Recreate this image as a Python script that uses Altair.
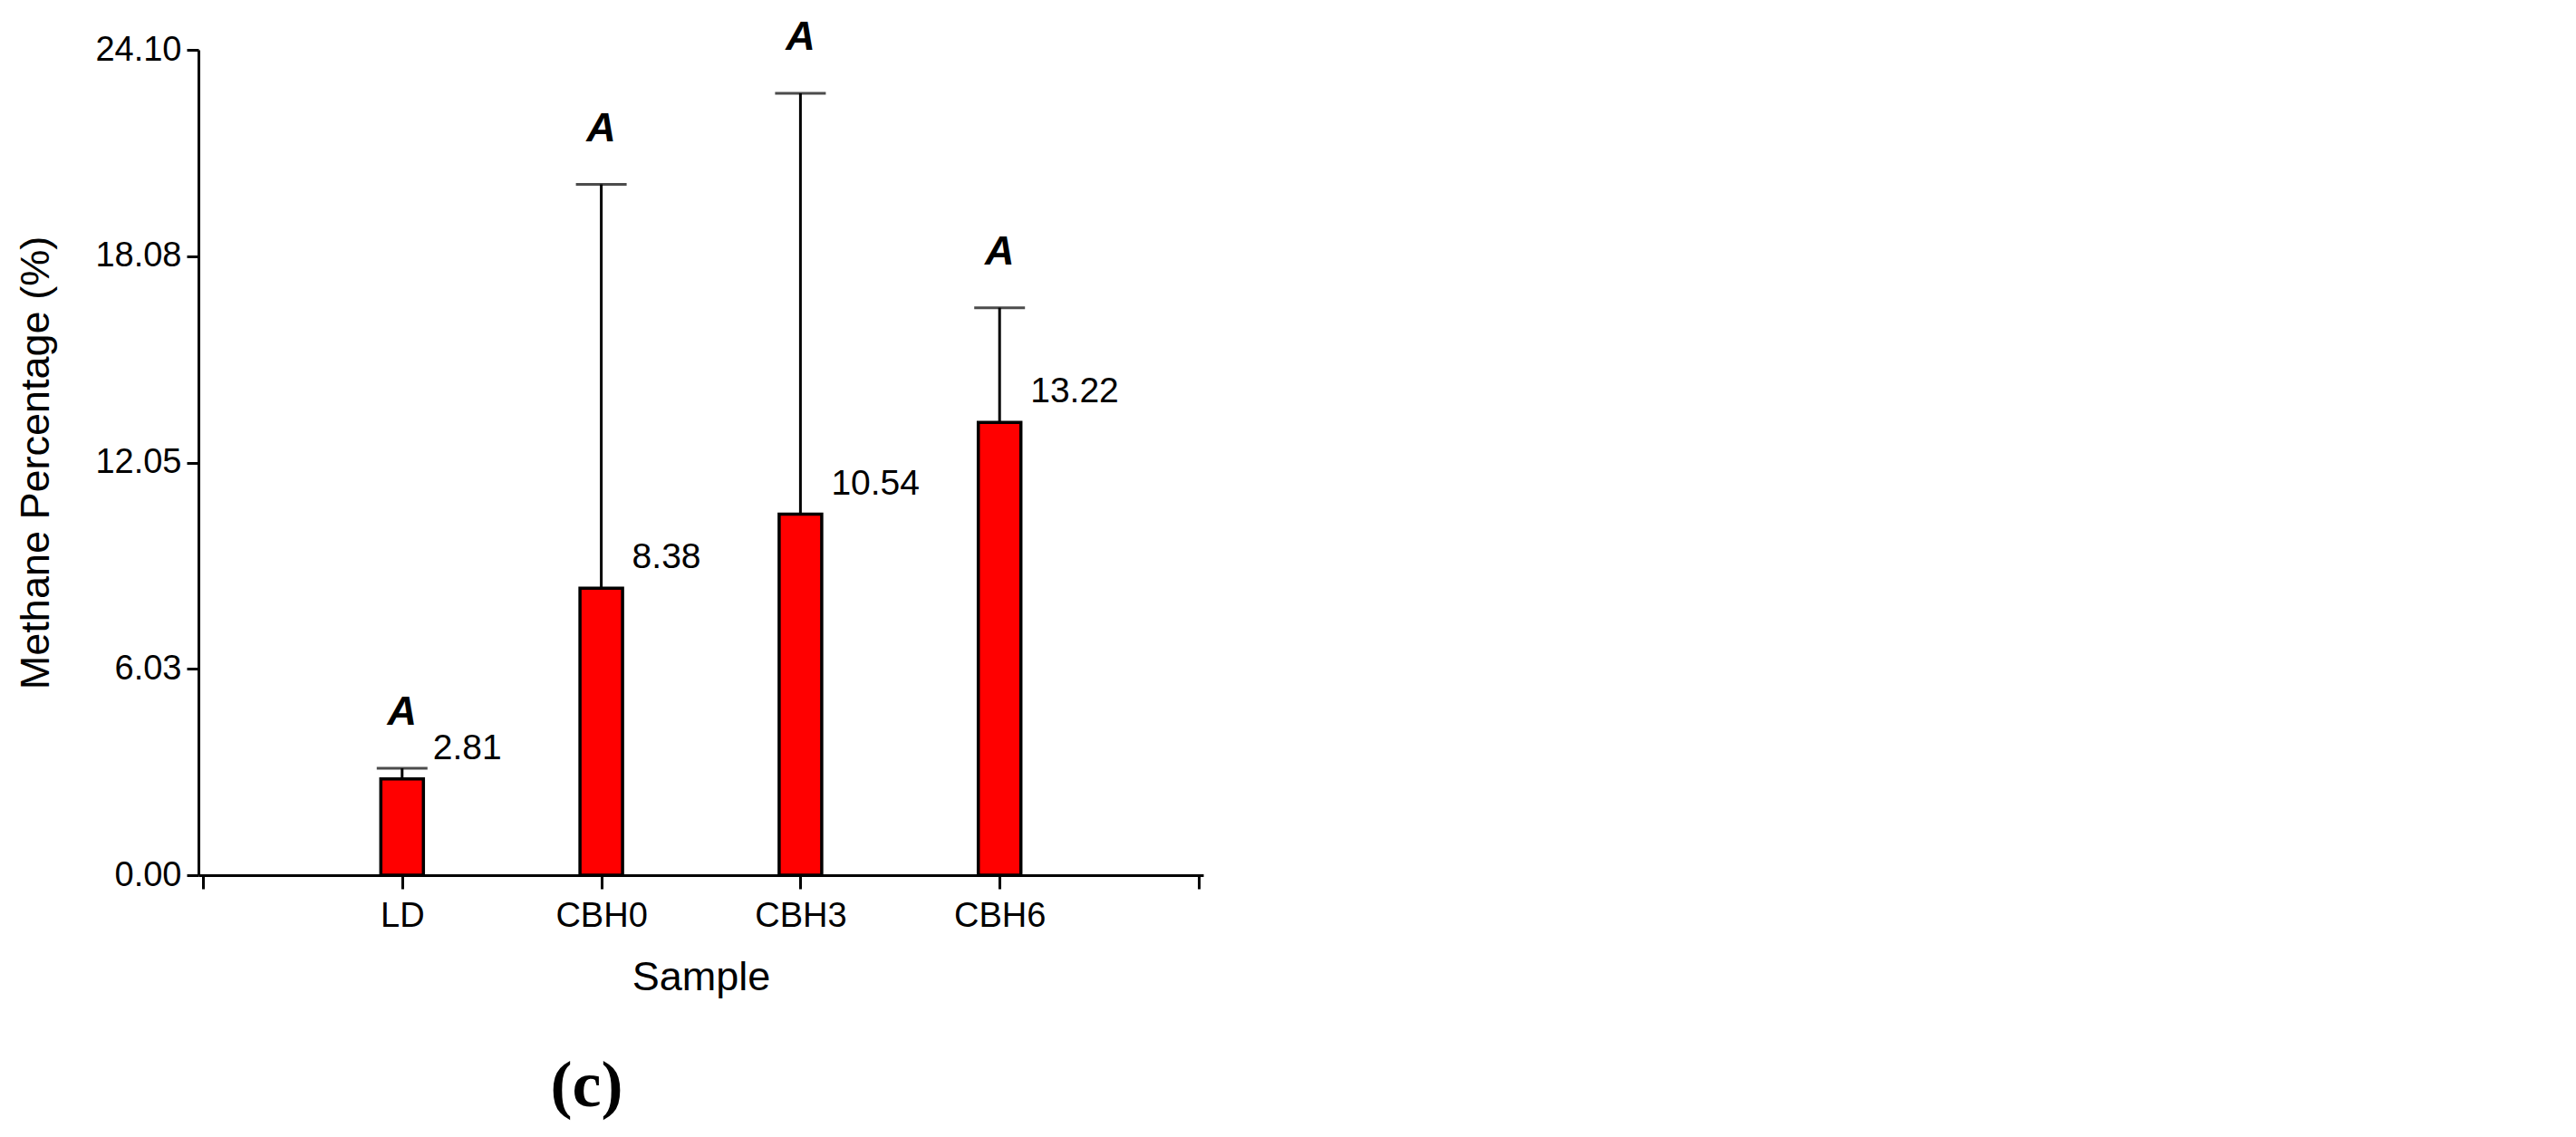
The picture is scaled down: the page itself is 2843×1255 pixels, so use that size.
import altair as alt
import pandas as pd

categories = ["LD", "CBH0", "CBH3", "CBH6"]
positions = [1, 2, 3, 4]
means = [2.81, 8.38, 10.54, 13.22]
uppers = [3.12, 20.17, 22.83, 16.57]
letters = ["A", "A", "A", "A"]
y_ticks = [0.00, 6.03, 12.05, 18.08, 24.10]
x_tick_positions = [0, 1, 2, 3, 4, 5]

df = pd.DataFrame({
    "category": categories,
    "pos": positions,
    "mean": means,
    "upper": uppers,
    "letter": letters,
})

FONT = "Liberation Sans"
label_list = [""] + categories + [""]
label_expr = "[" + ",".join("'" + s + "'" for s in label_list) + "][datum.value]"

x_enc = alt.X(
    "pos:Q",
    scale=alt.Scale(domain=[0, 5], nice=False, zero=False),
    axis=alt.Axis(
        values=x_tick_positions,
        labelExpr=label_expr,
        title="Sample",
        grid=False,
        domainColor="black",
        domainWidth=3,
        tickColor="black",
        tickWidth=3,
        tickSize=15,
        labelPadding=11,
        labelFont=FONT,
        labelFontSize=38,
        labelColor="black",
        titleFont=FONT,
        titleFontSize=45,
        titleFontWeight="normal",
        titleColor="black",
        titlePadding=26,
        labelFlush=False,
        labelOverlap=False,
    ),
)

y_scale = alt.Scale(domain=[0, 24.10], nice=False, zero=True)
y_axis = alt.Axis(
    values=y_ticks,
    format=".2f",
    title="Methane Percentage (%)",
    grid=False,
    domainColor="black",
    domainWidth=3,
    tickColor="black",
    tickWidth=3,
    tickSize=13,
    labelPadding=6,
    labelFont=FONT,
    labelFontSize=38,
    labelColor="black",
    titleFont=FONT,
    titleFontSize=45,
    titleFontWeight="normal",
    titleColor="black",
    titlePadding=42,
    labelFlush=False,
    labelOverlap=False,
)


def y_enc(field):
    return alt.Y(field, scale=y_scale, axis=y_axis)


base = alt.Chart(df)

bars = base.mark_bar(size=47, fill="#FF0000", stroke="black", strokeWidth=3.5).encode(
    x=x_enc, y=y_enc("mean:Q")
)

whisker = base.mark_rule(color="black", strokeWidth=3).encode(
    x=x_enc, y=y_enc("mean:Q"), y2="upper:Q"
)

cap = base.mark_tick(orient="horizontal", size=56, thickness=3, color="black").encode(
    x=x_enc, y=y_enc("upper:Q")
)

value_labels = base.mark_text(
    align="left", baseline="middle", dx=34, dy=-34, font=FONT, fontSize=39, color="black"
).encode(x=x_enc, y=y_enc("mean:Q"), text=alt.Text("mean:Q", format=".2f"))

letter_labels = base.mark_text(
    align="center", baseline="middle", dy=-62, font=FONT, fontSize=45,
    fontStyle="italic", fontWeight="bold", color="black"
).encode(x=x_enc, y=y_enc("upper:Q"), text="letter:N")

chart = alt.layer(bars, whisker, cap, value_labels, letter_labels).properties(
    width=1109,
    height=911,
    background="white",
    autosize=alt.AutoSizeParams(type="none"),
    padding={"left": 211, "top": 47, "right": 1500, "bottom": 285},
    title=alt.TitleParams(
        "(c)",
        orient="bottom",
        anchor="middle",
        frame="group",
        dx=-126,
        offset=63,
        font="Liberation Serif",
        fontSize=72,
        fontWeight="bold",
        color="black",
    ),
).configure_view(strokeWidth=0, stroke=None)

chart.save("out.html", embed_options={"renderer": "svg", "actions": False})
